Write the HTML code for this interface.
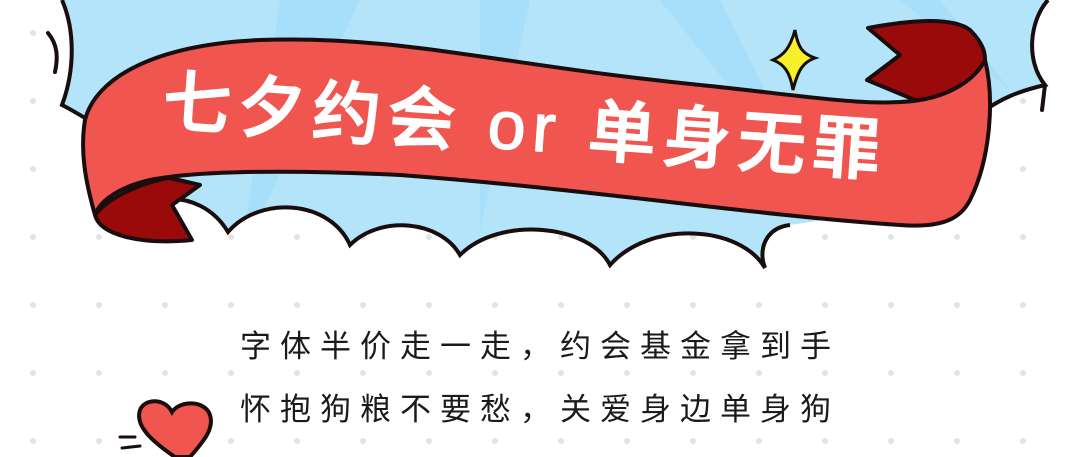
<!DOCTYPE html>
<html><head><meta charset="utf-8"><style>
html,body{margin:0;padding:0;background:#fff;}
svg{display:block}
</style></head><body>
<svg width="1080" height="457" viewBox="0 0 1080 457" xmlns="http://www.w3.org/2000/svg">
<defs><clipPath id="skyclip"><path d="M62,0 L1048,0 C1030,20 1025,60 1045,85 C1015,92 1000,100 985,110 L960,200 L790,225 C765,228 758,250 765,268 C740,225 650,220 610,265 C590,225 500,215 460,255 C440,220 380,215 350,245 C330,200 260,195 228,232 C215,210 190,195 160,200 L85,118 C75,112 68,108 62,105 C75,70 75,30 62,0 Z"/></clipPath></defs>
<g fill="#e3e3e3" id="dots"></g>
<g>
<path d="M62,0 L1048,0 C1030,20 1025,60 1045,85 C1015,92 1000,100 985,110 L960,200 L790,225 C765,228 758,250 765,268 C740,225 650,220 610,265 C590,225 500,215 460,255 C440,220 380,215 350,245 C330,200 260,195 228,232 C215,210 190,195 160,200 L85,118 C75,112 68,108 62,105 C75,70 75,30 62,0 Z" fill="#b3e4fa"/>
<path clip-path="url(#skyclip)" d="M280,0 L360,0 L240,260 Z M480,0 L530,0 L480,230 Z M660,0 L720,0 L820,200 Z M900,0 L940,0 L1010,90 Z" fill="#9fdbf8" opacity="0.6"/>
<path d="M62,0 C75,30 75,70 62,105 C68,108 75,112 85,118 M160,200 C190,195 215,210 228,232 C260,195 330,200 350,245 C380,215 440,220 460,255 C500,215 590,225 610,265 C650,220 740,225 765,268 C758,250 765,228 790,225 M985,110 C1000,100 1015,92 1045,85 C1025,60 1030,20 1048,0" fill="none" stroke="#1a0d0d" stroke-width="4"/>
<path d="M48,33 C58,45 58,58 55,72" fill="none" stroke="#1a0d0d" stroke-width="4" stroke-linecap="round"/>
<path d="M1045,85 L1042,110" stroke="#1a0d0d" stroke-width="4" stroke-linecap="round"/>
</g>
<path d="M795,30 C798,48 803,54 815,58 C803,62 798,70 793,90 C790,72 784,64 773,60 C784,55 790,48 795,30 Z" fill="#f6f02a" stroke="#1a0d0d" stroke-width="3"/>
<g stroke="#1a0d0d" stroke-width="4" stroke-linejoin="round">
<path d="M95,215 C110,195 150,180 170,178 L200,185 L172,205 L192,240 C140,245 100,235 95,215 Z" fill="#9b0a0a"/>
<path d="M868,28 C900,22 950,15 970,30 C985,45 985,55 985,60 C975,85 950,100 915,100 L867,80 L900,55 Z" fill="#9b0a0a"/>
<path d="M85,120 C95,80 150,45 260,40 C400,35 500,65 700,85 C800,95 870,108 920,100 C950,95 975,80 985,60 C995,100 990,160 970,200 C960,220 940,228 900,225 C750,215 600,190 400,175 C300,170 200,170 150,180 C120,187 100,200 95,215 C85,180 80,150 85,120 Z" fill="#f0554f"/>
</g>
<text x="525" y="150" text-anchor="middle" transform="rotate(4 525 130)" font-family="'Liberation Sans','Noto Sans CJK SC',sans-serif" font-size="68" font-weight="500" fill="#fff" stroke="#fff" stroke-width="1.5" letter-spacing="7">七夕约会 or 单身无罪</text>
<g font-family="'Liberation Sans','Noto Sans CJK SC',sans-serif" font-size="31" fill="#1a1a1a" letter-spacing="9">
<text x="240" y="357">字体半价走一走，约会基金拿到手</text>
<text x="240" y="420">怀抱狗粮不要愁，关爱身边单身狗</text>
</g>
<g>
<path d="M175,457 C150,440 135,425 140,410 C145,398 165,398 172,412 C180,400 205,400 210,415 C215,430 200,445 190,457 Z" fill="#f0554f" stroke="#1a0d0d" stroke-width="4"/>
<path d="M120,437 L135,437 M122,448 L140,446" stroke="#1a0d0d" stroke-width="3" stroke-linecap="round"/>
</g>
</svg>
<script>
var g=document.getElementById('dots');
for(var y=33;y<457;y+=68){for(var x=33;x<1080;x+=66){
var c=document.createElementNS('http://www.w3.org/2000/svg','circle');


c.setAttribute('cx',x);c.setAttribute('cy',y);c.setAttribute('r',3);g.appendChild(c);}}
</script>
</body></html>
